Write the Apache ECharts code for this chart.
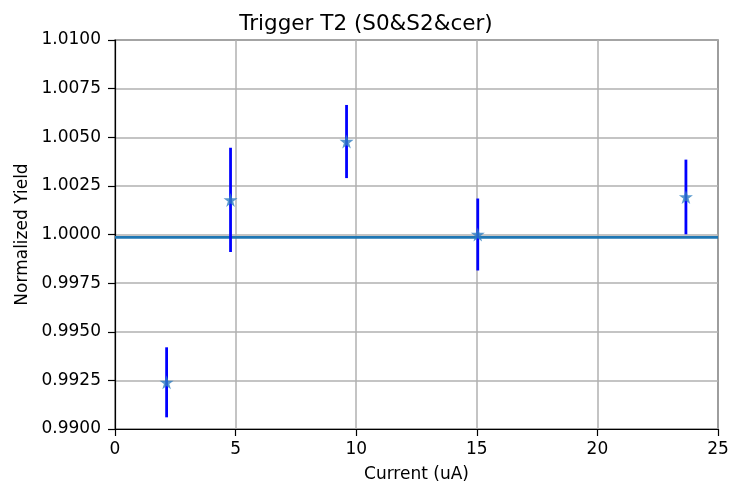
<!DOCTYPE html>
<html><head><meta charset="utf-8">
<script src="https://cdn.jsdelivr.net/npm/echarts@6/dist/echarts.min.js"></script>
<style>html,body{margin:0;padding:0;background:#fff}#c{width:732px;height:488px}</style>
</head><body><div id="c"></div>
<script>
const currents = [2.14, 4.79, 9.6, 15.04, 23.67];
const yields = [0.99240, 1.00178, 1.00478, 1.00000, 1.00193];
const errors = [0.00180, 0.00268, 0.00188, 0.00185, 0.00192];
const fitValue = 0.99985;
const fitRange = [0, 25];

const chart = echarts.init(document.getElementById('c'));
const font = 'DejaVu Sans';
const star = 'path://M50,0 L61.8,35.4 L100,35.4 L69.1,57.3 L80.9,93.3 L50,71.4 L19.1,93.3 L30.9,57.3 L0,35.4 L38.2,35.4 Z';
const errData = currents.map((x, i) => [x, yields[i] - errors[i], yields[i] + errors[i]]);
chart.setOption({
  animation: false,
  title: {text: 'Trigger T2 (S0&S2&cer)', left: 'center', top: 8,
    textStyle: {fontFamily: font, fontSize: 21.5, fontWeight: 'normal', color: '#000'}},
  grid: {left: 115, right: 14, top: 40, bottom: 56, show: true, borderColor: '#000', borderWidth: 1.2},
  xAxis: {type: 'value', min: 0, max: 25, interval: 5,
    name: 'Current (uA)', nameLocation: 'middle', nameGap: 37,
    nameTextStyle: {fontFamily: font, fontSize: 17, color: '#000'},
    axisLine: {show: true, lineStyle: {color: '#000', width: 1.2}},
    axisTick: {show: true, length: 7, inside: false, lineStyle: {color: '#000', width: 1.2}},
    axisLabel: {fontFamily: font, fontSize: 17, color: '#000', margin: 12},
    splitLine: {show: true, lineStyle: {color: '#b0b0b0', width: 1.5}}},
  yAxis: {type: 'value', min: 0.99, max: 1.01, interval: 0.0025,
    name: 'Normalized Yield', nameLocation: 'middle', nameGap: 84,
    nameTextStyle: {fontFamily: font, fontSize: 17, color: '#000'},
    axisLine: {show: true, lineStyle: {color: '#000', width: 1.2}},
    axisTick: {show: true, length: 7, lineStyle: {color: '#000', width: 1.2}},
    axisLabel: {fontFamily: font, fontSize: 17, color: '#000', margin: 14,
      formatter: v => v.toFixed(4)},
    splitLine: {show: true, lineStyle: {color: '#b0b0b0', width: 1.5}}},
  series: [
    {type: 'line', data: fitRange.map(x => [x, fitValue]), symbol: 'none',
      lineStyle: {color: '#1f77b4', width: 2.8}, z: 2},
    {type: 'custom', data: errData, z: 3,
      renderItem: (params, api) => {
        const x = api.value(0);
        const lo = api.coord([x, api.value(1)]);
        const hi = api.coord([x, api.value(2)]);
        return {type: 'line', shape: {x1: lo[0], y1: lo[1], x2: hi[0], y2: hi[1]},
          style: {stroke: '#0000ff', lineWidth: 2.8}};
      }},
    {type: 'scatter', data: currents.map((x, i) => [x, yields[i]]), symbol: star,
      symbolSize: 14, itemStyle: {color: '#2f7ec1'}, z: 4}
  ]
});
</script></body></html>
